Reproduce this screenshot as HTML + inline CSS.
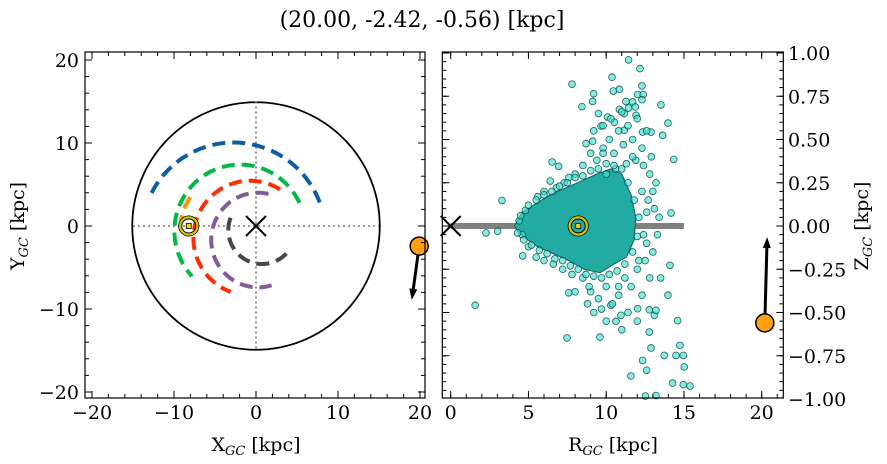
<!DOCTYPE html>
<html><head><meta charset="utf-8"><style>
html,body{margin:0;padding:0;background:#fff}
svg{display:block;font-family:"DejaVu Serif","Liberation Serif",serif}
</style></head><body>
<svg id="fig" width="887" height="464" viewBox="0 0 887 464" xmlns="http://www.w3.org/2000/svg">
<text x="422" y="27" font-size="22" text-anchor="middle">(20.00, -2.42, -0.56) [kpc]</text>
<g id="left"></g>
<g id="right"></g>
<text x="256" y="451" font-size="19" text-anchor="middle">X<tspan font-size="13" dy="4" font-style="italic">GC</tspan><tspan dy="-4"> [kpc]</tspan></text>
<text transform="translate(24,226) rotate(-90)" font-size="19" text-anchor="middle">Y<tspan font-size="13" dy="4" font-style="italic">GC</tspan><tspan dy="-4"> [kpc]</tspan></text>
<text x="613" y="451" font-size="19" text-anchor="middle">R<tspan font-size="13" dy="4" font-style="italic">GC</tspan><tspan dy="-4"> [kpc]</tspan></text>
<text transform="translate(868,226) rotate(-90)" font-size="19" text-anchor="middle">Z<tspan font-size="13" dy="4" font-style="italic">GC</tspan><tspan dy="-4"> [kpc]</tspan></text>
</svg>
<script>
// ---- Left panel data (kpc) ----
const arcNames = ["blue","green","orange","red","purple","gray"];
const arcColors = ["#0C5DA5","#00B945","#FF9500","#FF2C00","#845B97","#474747"];
const arcCx = [-2.74,-1.95,-1.95,-0.73,0.24,0.73];
const arcCy = [-1.2,-0.6,-0.6,-1.45,-1.69,-0.48];
const arcR = [11.26,8.0,7.3,6.9,5.7,4.1];
const arcStart = [21,25,146,58,77,159];
const arcEnd = [158,224,173,250,287,325];
const sunXY = [-8.2,0];
const objXY = [19.9,-2.42];
const objVelTipXY = [19.0,-8.9];
const xyTicks = [-20,-10,0,10,20];
const xyTickLabels = ["\u221220","\u221210","0","10","20"];
// ---- Right panel data ----
const starR = [11.44,12.17,10.37,7.8,12.3,10.46,10.85,9.19,9.13,8.44,12.02,12.38,12.3,11.27,11.7,10.85,11.44,11.87,13.52,11.16,11.92,10.09,10.52,13.97,9.67,11.16,12.34,12.88,13.63,8.7,9.13,6.52,6.94,14.34,3.3,14.17,2.27,3.02,1.57,4.63,7.59,7.48,9.6,14.59,12.77,12.88,14.74,13.73,14.49,14.96,12.34,12.6,15.02,11.59,14.27,14.96,15.39,12.52,13.2,14.1,13.97,12.02,13.1,10.63,10.95,10.3,12.77,13.2,
8.5,9.0,9.4,9.8,10.2,10.5,10.8,11.1,11.4,11.7,12.0,12.3,12.6,12.9,12.4,11.9,12.8,13.2,13.0,12.7,13.1,13.4,10.0,10.6,11.3,8.0,7.6,9.2,9.8,10.3,11.0,9.5,7.3,6.8,6.0,5.6,6.4,
8.5,9.0,9.5,10.0,10.4,10.8,11.2,11.6,12.0,12.3,12.5,12.8,13.0,12.6,13.3,7.8,7.2,6.6,6.0,5.5,5.0,4.6,4.4,4.8,9.2,10.0,9.7,11.0,11.4,12.0,8.8,8.0,13.5,
4.5,5.0,5.5,6.0,6.5,7.0,7.5,8.0,8.5,9.0,9.5,10.0,10.5,11.0,11.4,11.8,12.1,12.0,11.7,11.2,10.7,10.2,9.7,9.2,8.7,8.2,7.7,7.2,6.7,6.2,5.7,5.2,4.7,4.3,12.3,12.1,11.7,10.8,9.8,8.9,12.4,12.6];
const starZ = [0.96,0.91,0.86,0.82,0.81,0.78,0.79,0.765,0.72,0.69,0.76,0.76,0.73,0.72,0.717,0.674,0.682,0.688,0.70,0.65,0.64,0.63,0.60,0.595,0.578,0.553,0.543,0.543,0.524,0.476,0.49,0.37,0.345,0.385,0.148,0.075,-0.04,-0.03,-0.458,-0.173,-0.386,-0.647,-0.642,-0.547,-0.613,-0.705,-0.69,-0.748,-0.748,-0.748,-0.777,-0.834,-0.815,-0.867,-0.908,-0.917,-0.925,-0.983,-0.98,-0.227,-0.4,-0.478,-0.516,-0.551,-0.516,-0.458,-0.484,-0.487,
0.35,0.42,0.38,0.45,0.5,0.42,0.55,0.47,0.58,0.5,0.62,0.45,0.55,0.4,0.35,0.38,0.3,0.25,0.2,0.15,0.1,0.05,0.3,0.33,0.36,0.3,0.28,0.55,0.58,0.62,0.66,0.65,0.25,0.22,0.2,0.17,0.26,
-0.3,-0.38,-0.42,-0.35,-0.45,-0.4,-0.3,-0.35,-0.25,-0.4,-0.2,-0.3,-0.15,-0.1,-0.05,-0.28,-0.25,-0.22,-0.2,-0.18,-0.12,-0.05,0.03,0.09,-0.5,-0.55,-0.48,-0.6,-0.5,-0.55,-0.45,-0.38,-0.3,
0.06,0.12,0.15,0.18,0.2,0.23,0.25,0.28,0.29,0.32,0.33,0.36,0.35,0.33,0.25,0.15,0.05,-0.06,-0.15,-0.22,-0.26,-0.28,-0.3,-0.29,-0.28,-0.25,-0.23,-0.2,-0.19,-0.16,-0.14,-0.11,-0.08,-0.04,0.2,-0.2,0.4,-0.35,0.42,-0.35,-0.05,0.08];
const coreR = [4.1,4.6,5.5,6.4,7.4,8.4,9.4,10.3,11,11.6,11.9,11.8,11.3,10.5,9.6,8.6,7.6,6.6,5.6,4.8,4.3];
const coreZ = [0,0.08,0.13,0.18,0.22,0.26,0.3,0.33,0.3,0.18,0.05,-0.08,-0.18,-0.22,-0.27,-0.25,-0.2,-0.16,-0.12,-0.07,-0.03];
const sunRZ = [8.2,0];
const objRZ = [20.2,-0.56];
const objVelTipRZ = [20.35,-0.064];
const discEndR = 15;
const rTicks = [0,5,10,15,20];
const rTickLabels = ["0","5","10","15","20"];
const zTicks = [-1,-0.75,-0.5,-0.25,0,0.25,0.5,0.75,1];
const zTickLabels = ["\u22121.00","\u22120.75","\u22120.50","\u22120.25","0.00","0.25","0.50","0.75","1.00"];

const NS="http://www.w3.org/2000/svg";
function mk(parent,tag,attrs){const e=document.createElementNS(NS,tag);for(const k in attrs)e.setAttribute(k,attrs[k]);parent.appendChild(e);return e;}

const Lx=v=>256+8.2*v, Ly=v=>226-8.3*v;
const Rx=v=>450.7+15.55*v, Zy=v=>226-173*v;
const L=document.getElementById('left'), Rg=document.getElementById('right');

// ---------- LEFT ----------
let c=mk(L,'circle',{cx:Lx(0),cy:Ly(0),r:15*8.25,fill:'none',stroke:'#000','stroke-width':1.8});


let d=mk(L,'line',{x1:Lx(0),x2:Lx(0),y1:Ly(15),y2:Ly(-15),stroke:'#777','stroke-width':1.6,'stroke-dasharray':'2 3'});


d=mk(L,'line',{x1:Lx(-15),x2:Lx(15),y1:Ly(0),y2:Ly(0),stroke:'#777','stroke-width':1.6,'stroke-dasharray':'2 3'});


for(let i=0;i<arcR.length;i++){
  let pts=[];
  for(let a=arcStart[i];a<=arcEnd[i]+0.01;a+=2){const t=a*Math.PI/180;pts.push(Lx(arcCx[i]+arcR[i]*Math.cos(t)).toFixed(1)+','+Ly(arcCy[i]+arcR[i]*Math.sin(t)).toFixed(1));}
  const p=mk(L,'polyline',{points:pts.join(' '),fill:'none',stroke:arcColors[i],'stroke-width':4,'stroke-dasharray':'13 7'});
  
  
}
function cross(g,x,y,name){const s=mk(g,'path',{d:`M${x-10},${y-10}L${x+10},${y+10}M${x-10},${y+10}L${x+10},${y-10}`,stroke:'#000','stroke-width':2,fill:'none'});

}
function sun(g,x,y,name){const s=mk(g,'g',{});


mk(s,'circle',{cx:x,cy:y,r:10,fill:'none',stroke:'#000','stroke-width':1});
mk(s,'circle',{cx:x,cy:y,r:8.5,fill:'none',stroke:'#d4c400','stroke-width':2.5});
mk(s,'circle',{cx:x,cy:y,r:7,fill:'none',stroke:'#000','stroke-width':1});
mk(s,'rect',{x:x-2.5,y:y-2.5,width:5,height:5,fill:'#e8d800',stroke:'#000','stroke-width':0.8});}
function arrow(g,x1,y1,x2,y2,name){const s=mk(g,'g',{});


const dx=x2-x1,dy=y2-y1,l=Math.hypot(dx,dy),ux=dx/l,uy=dy/l,hl=11,hw=4;
mk(s,'line',{x1:x1,y1:y1,x2:x2-ux*hl,y2:y2-uy*hl,stroke:'#000','stroke-width':3});
mk(s,'path',{d:`M${x2},${y2}L${x2-ux*hl-uy*hw},${y2-uy*hl+ux*hw}L${x2-ux*hl+uy*hw},${y2-uy*hl-ux*hw}Z`,fill:'#000'});}
cross(L,Lx(0),Ly(0),'galactic-center-marker');
sun(L,Lx(sunXY[0]),Ly(sunXY[1]),'sun-marker');
arrow(L,Lx(objXY[0]),Ly(objXY[1]),Lx(objVelTipXY[0]),Ly(objVelTipXY[1]),'velocity-arrow-xy');
c=mk(L,'circle',{cx:Lx(objXY[0]),cy:Ly(objXY[1]),r:9,fill:'#FFA010',stroke:'#000','stroke-width':1.5});



function frame(g,x0,x1,y0,y1,name){const f=mk(g,'rect',{x:x0,y:y0,width:x1-x0,height:y1-y0,fill:'none',stroke:'#000','stroke-width':1.2});

}
function ticks(g,pos,axis,x0,x1,y0,y1,len){for(const p of pos){if(axis==='x'){if(p<x0-0.5||p>x1+0.5)continue;mk(g,'line',{x1:p,x2:p,y1:y1,y2:y1-len,stroke:'#000','stroke-width':1});mk(g,'line',{x1:p,x2:p,y1:y0,y2:y0+len,stroke:'#000','stroke-width':1});}
else{if(p<y0-0.5||p>y1+0.5)continue;mk(g,'line',{x1:x0,x2:x0+len,y1:p,y2:p,stroke:'#000','stroke-width':1});mk(g,'line',{x1:x1,x2:x1-len,y1:p,y2:p,stroke:'#000','stroke-width':1});}}}
frame(L,85,425,52,398,'xy-axes-frame');
let tg=mk(L,'g',{});


let minor=[];for(let v=-22;v<=22;v+=2)minor.push(v);
ticks(tg,minor.map(Lx),'x',85,425,52,398,4);ticks(tg,minor.map(Ly),'y',85,425,52,398,4);
ticks(tg,xyTicks.map(Lx),'x',85,425,52,398,7);ticks(tg,xyTicks.map(Ly),'y',85,425,52,398,7);
xyTicks.forEach((v,i)=>{let t=mk(L,'text',{x:Lx(v),y:419,'font-size':19,'text-anchor':'middle'});t.textContent=xyTickLabels[i];


t=mk(L,'text',{x:79,y:Ly(v)+7,'font-size':19,'text-anchor':'end'});t.textContent=xyTickLabels[i];

});

// ---------- RIGHT ----------
let ln=mk(Rg,'line',{x1:Rx(0),x2:Rx(discEndR),y1:Zy(0),y2:Zy(0),stroke:'#808080','stroke-width':6});


const sg=mk(Rg,'g',{});


let core=mk(sg,'polygon',{points:coreR.map((r,i)=>Rx(r).toFixed(1)+','+Zy(coreZ[i]).toFixed(1)).join(' '),fill:'#22aba3',stroke:'#1a6e69','stroke-width':1.2,'stroke-linejoin':'round'});


for(let i=0;i<starR.length;i++){
  const p=mk(sg,'circle',{cx:Rx(starR[i]),cy:Zy(starZ[i]),r:3.4,fill:'rgba(64,224,208,0.65)',stroke:'rgba(0,60,60,0.8)','stroke-width':0.8});
  
  
}
cross(Rg,Rx(0),Zy(0),'galactic-center-marker-rz');
sun(Rg,Rx(sunRZ[0]),Zy(sunRZ[1]),'sun-marker-rz');
arrow(Rg,Rx(objRZ[0]),Zy(objRZ[1]),Rx(objVelTipRZ[0]),Zy(objVelTipRZ[1]),'velocity-arrow-rz');
c=mk(Rg,'circle',{cx:Rx(objRZ[0]),cy:Zy(objRZ[1]),r:9,fill:'#FFA010',stroke:'#000','stroke-width':1.5});


frame(Rg,442.3,783.3,52,398,'rz-axes-frame');
tg=mk(Rg,'g',{});


minor=[];for(let v=0;v<=21;v++)minor.push(v);
let zmin=[];for(let v=-1;v<=1.001;v+=0.05)zmin.push(v);
ticks(tg,minor.map(Rx),'x',442.3,783.3,52,398,4);ticks(tg,zmin.map(Zy),'y',442.3,783.3,52,398,4);
ticks(tg,rTicks.map(Rx),'x',442.3,783.3,52,398,7);ticks(tg,zTicks.map(Zy),'y',442.3,783.3,52,398,7);
rTicks.forEach((v,i)=>{let t=mk(Rg,'text',{x:Rx(v),y:419,'font-size':19,'text-anchor':'middle'});t.textContent=rTickLabels[i];

});
zTicks.forEach((v,i)=>{let t=mk(Rg,'text',{x:788,y:Zy(v)+7,'font-size':19,'text-anchor':'start'});t.textContent=zTickLabels[i];

});
</script>
</body></html>
